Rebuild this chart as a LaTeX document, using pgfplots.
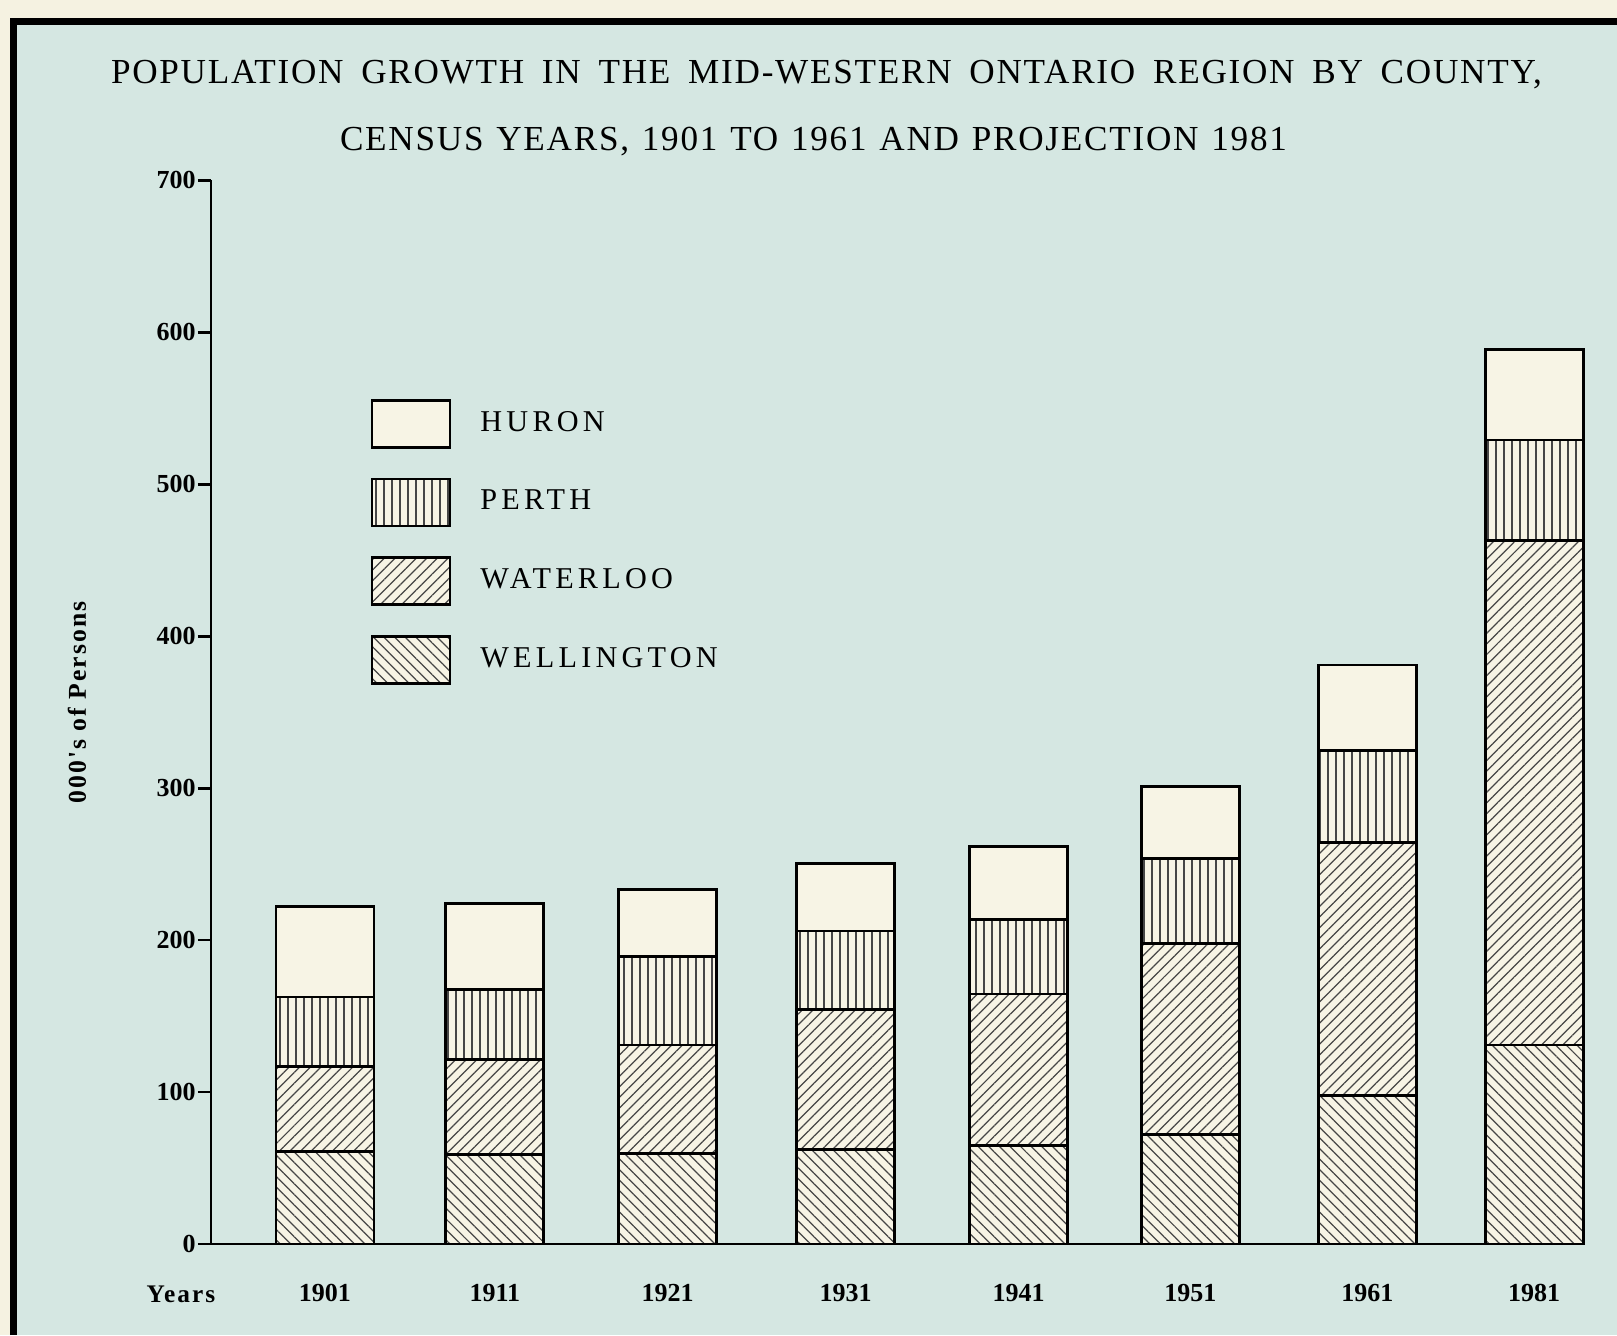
\documentclass[border=0pt]{standalone}
\usepackage{pgfplots}
\pgfplotsset{compat=1.18}
\usepackage{pgfplotstable}
\usetikzlibrary{patterns.meta}
\usepackage{fontspec}
\setmainfont{Liberation Serif}
\newfontfamily\titlefont[LetterSpace=5]{Liberation Serif}
\newfontfamily\legfont[LetterSpace=14]{Liberation Serif}
\newfontfamily\lblfont[LetterSpace=8]{Liberation Serif}
\newfontfamily\tickfont{Liberation Serif}
\definecolor{outer}{RGB}{245,242,225}
\definecolor{bg}{RGB}{213,231,226}
\definecolor{cream}{RGB}{247,244,229}
\definecolor{hatch}{RGB}{70,70,70}

\pgfplotstableread{
x well water perth huron
325 61 56 45.5 59.5
495 59 62.5 46 56.5
668 59.5 71.5 58 44.5
846 62 92.5 51.5 44.5
1019 65 99.5 49 48
1191 72 126 55.5 47.5
1368 97.5 166.5 61 56
1535 131 332 66 59.5
}\data

\begin{document}
\begin{tikzpicture}
\useasboundingbox (0,0) rectangle (16.17,-13.35);
\fill[outer] (0,0) rectangle (16.17,-13.35);
\fill[bg] (0.135,-0.215) rectangle (16.17,-13.35);
\draw[line width=0.07cm] (0.135,-13.35) -- (0.135,-0.215) -- (16.17,-0.215);

\node[anchor=base] at (8.265,-0.83) {\titlefont\fontsize{10}{12}\selectfont\makebox[14.31cm][s]{POPULATION GROWTH IN THE MID-WESTERN ONTARIO REGION BY COUNTY,}};
\node[anchor=base] at (8.135,-1.50) {\titlefont\fontsize{10}{12}\selectfont\makebox[9.47cm][s]{CENSUS YEARS, 1901 TO 1961 AND PROJECTION 1981}};
\node[anchor=base] at (1.81,-13.02) {\lblfont\bfseries\fontsize{7.2}{8}\selectfont Years};

\begin{axis}[
  at={(2.11cm,-12.44cm)}, anchor=south west,
  x=0.01cm, y=0.0152cm,
  xmin=211, xmax=1586, ymin=0, ymax=700,
  enlargelimits=false,
  axis lines=left,
  axis line style={-, line width=0.8pt},
  ybar stacked, bar width=98,
  xtick=data,
  xticklabels={1901,1911,1921,1931,1941,1951,1961,1981},
  xtick style={draw=none},
  xticklabel style={anchor=base, yshift=-0.44cm, font=\tickfont\bfseries\fontsize{7.4}{8}\selectfont},
  ytick={0,100,...,700},
  tick align=outside,
  major tick length=0.13cm,
  ytick style={line width=0.8pt, black},
  yticklabel style={inner sep=0.5pt, font=\tickfont\bfseries\fontsize{7.4}{8}\selectfont},
  /pgf/number format/assume math mode=true,
  ylabel={\lblfont\bfseries\fontsize{7.3}{8}\selectfont 000's of Persons},
  ylabel style={at={(axis description cs:-0.0975,0.509)}, anchor=center},
  legend style={at={(axis cs:370,556.6)}, anchor=north west, draw=none, fill=none,
    font=\legfont\fontsize{8.6}{10}\selectfont, inner sep=0pt, row sep=0.29cm, column sep=0.22cm,
    cells={anchor=west}},
  reverse legend,
  leg/.style={legend image code/.code={\draw[##1, line width=0.8pt] (0cm,-0.235cm) rectangle (0.78cm,0.235cm);}},
]
\addplot[fill=cream, draw=black, line width=0.8pt, postaction={pattern={Lines[angle=-45,distance=0.75mm,line width=0.35pt]}, pattern color=hatch}, leg] table[x=x, y=well] {\data};
\addplot[fill=cream, draw=black, line width=0.8pt, postaction={pattern={Lines[angle=45,distance=0.75mm,line width=0.35pt]}, pattern color=hatch}, leg] table[x=x, y=water] {\data};
\addplot[fill=cream, draw=black, line width=0.8pt, postaction={pattern={Lines[angle=90,distance=0.8mm,line width=0.35pt]}, pattern color=hatch}, leg] table[x=x, y=perth] {\data};
\addplot[fill=cream, draw=black, line width=0.8pt, leg] table[x=x, y=huron] {\data};
\legend{WELLINGTON, WATERLOO, PERTH, HURON}
\end{axis}
\end{tikzpicture}
\end{document}
